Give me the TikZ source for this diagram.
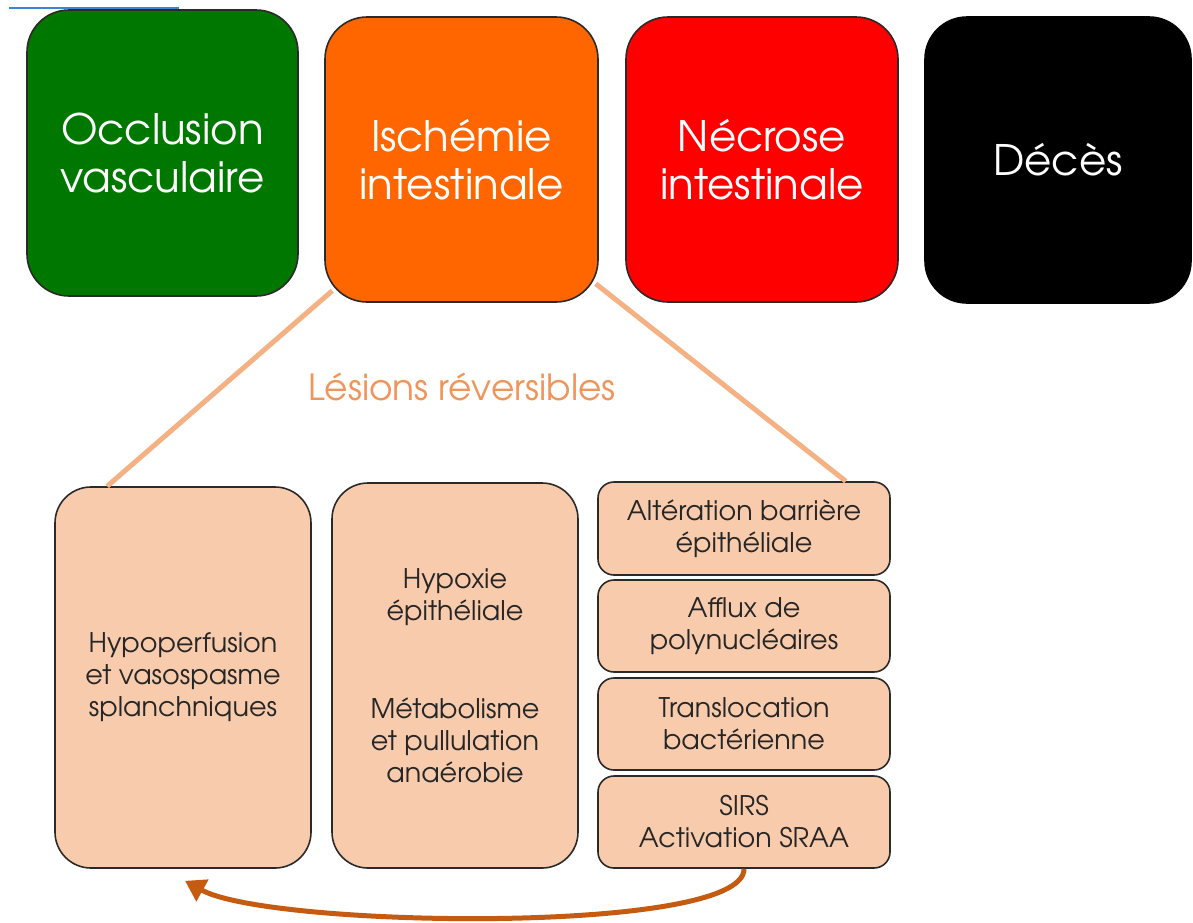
\documentclass[tikz,border=0pt]{standalone}
\usepackage{fontspec}
\setmainfont{TeX Gyre Adventor}
\usetikzlibrary{arrows.meta}
\definecolor{cgreen}{HTML}{007800}
\definecolor{corange}{HTML}{FF6600}
\definecolor{cred}{HTML}{FF0000}
\definecolor{cpeach}{HTML}{F8CBAD}
\definecolor{cline}{HTML}{F4B183}
\definecolor{clabel}{HTML}{F0955A}
\definecolor{carrow}{HTML}{C55A11}
\definecolor{cborder}{HTML}{2A2A2A}
\definecolor{cblue}{HTML}{3A86D4}
\definecolor{ctext}{HTML}{262626}
\begin{document}
\begin{tikzpicture}[x=1pt,y=-1pt,
  topbox/.style={draw=cborder, line width=1.6pt, rounded corners=42pt, inner sep=0pt,
    align=center, text=white, font=\fontsize{42}{48}\selectfont},
  lowbox/.style={draw=cborder, line width=1.6pt, fill=cpeach, inner sep=0pt,
    align=center, text=ctext, font=\fontsize{27}{32}\selectfont},
  link/.style={draw=cline, line width=5pt},
  loop/.style={draw=carrow, line width=5pt, -{Triangle[length=20pt,width=24pt]}}
]
\useasboundingbox (0,0) rectangle (1193,922);
\draw[cblue, line width=1.5pt] (9,8) -- (179,8);

\node[topbox, fill=cgreen, minimum width=271pt, minimum height=286pt] (occ) at (162.5,153) {Occlusion\\vasculaire};
\node[topbox, fill=corange, minimum width=273pt, minimum height=285pt] (isc) at (461.5,159.5) {Ischémie\\intestinale};
\node[topbox, fill=cred, minimum width=272pt, minimum height=285pt] (nec) at (762,159.5) {Nécrose\\intestinale};
\node[topbox, fill=black, draw=black, minimum width=266pt, minimum height=286pt] (dec) at (1058,160) {Décès};

\node[lowbox, rounded corners=36pt, minimum width=256pt, minimum height=381pt] (hyp) at (183,677.5) {Hypoperfusion\\et vasospasme\\splanchniques};
\node[lowbox, rounded corners=36pt, minimum width=246pt, minimum height=385pt] (hyx) at (455,675.5) {Hypoxie\\épithéliale\\[66pt]Métabolisme\\et pullulation\\anaérobie};
\node[lowbox, rounded corners=16pt, minimum width=292pt, minimum height=93pt] (r1) at (744,528.5) {Altération barrière\\épithéliale};
\node[lowbox, rounded corners=16pt, minimum width=292pt, minimum height=92pt] (r2) at (744,626) {Afflux de\\polynucléaires};
\node[lowbox, rounded corners=16pt, minimum width=292pt, minimum height=92pt] (r3) at (744,724) {Translocation\\bactérienne};
\node[lowbox, rounded corners=16pt, minimum width=292pt, minimum height=92pt] (r4) at (744,822) {SIRS\\Activation SRAA};

\node[text=clabel, font=\fontsize{36}{40}\selectfont, inner sep=0pt] (les) at (462,387) {Lésions réversibles};

\path[link] ([xshift=8pt,yshift=12pt]isc.south west) -- ([xshift=53pt]hyp.north west);
\path[link] ([xshift=-3pt,yshift=19pt]isc.south east) -- ([xshift=-45pt]r1.north east);

\coordinate (tip) at ([xshift=2pt,yshift=-12pt]hyp.south);
\path[loop] (r4.south) .. controls (745,935) and (270,928) .. (tip);
\end{tikzpicture}
\end{document}
